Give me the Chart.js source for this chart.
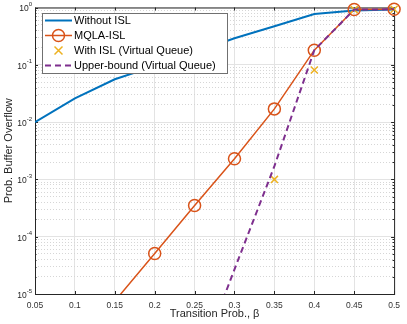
<!DOCTYPE html>
<html>
<head>
<meta charset="utf-8">
<script src="https://cdn.jsdelivr.net/npm/chart.js@4.4.1/dist/chart.umd.min.js"></script>
<style>
  html, body { margin: 0; padding: 0; background: #fff; }
  #wrap { width: 407px; height: 324px; position: relative; }
</style>
</head>
<body>
<div id="wrap"><canvas id="chart"></canvas></div>
<script>
// Transition probability beta (x axis)
const betas = [0.05, 0.1, 0.15, 0.2, 0.25, 0.3, 0.35, 0.4, 0.45, 0.5];

// Probability of buffer overflow for each scheme (null = not plotted)
const withoutIsl   = [0.0100, 0.026, 0.056, 0.095, 0.165, 0.29, 0.47, 0.77, 0.89, 0.92];
const mqlaIsl      = [null, null, 7.5e-6, 5.1e-5, 3.5e-4, 2.3e-3, 0.017, 0.18, 0.92, 0.93];
const withIslVq    = [null, null, null, null, null, null, 1.0e-3, 0.081, 0.92, 0.93];
const upperBoundVq = [null, null, null, null, 4e-7, 2.7e-5, 1.7e-3, 0.18, 0.92, 0.93];

// Tick labels
const xTicks = [0.05, 0.1, 0.15, 0.2, 0.25, 0.3, 0.35, 0.4, 0.45, 0.5];
const yDecades = [-5, -4, -3, -2, -1, 0];
const yTickExponents = ['-5', '-4', '-3', '-2', '-1', '0'];

const FONT = '"Liberation Sans", Arial, Helvetica, sans-serif';
const AXIS_COLOR = '#262626';

// every 1..9 x 10^e value gets a grid line, the 10^e ones are major
const yGridValues = [];
yDecades.forEach(e => {
  if (e === 0) { yGridValues.push(1); return; }
  for (let k = 1; k <= 9; k++) yGridValues.push(k * Math.pow(10, e));
});
const isMajor = v => Math.abs(Math.log10(v) - Math.round(Math.log10(v))) < 1e-9;

const toPoints = arr => betas.map((b, i) => ({ x: b, y: arr[i] }));

// Box round the plot area, inward ticks and 10^n labels
const axesBox = {
  id: 'axesBox',
  beforeDatasetsDraw(chart) {
    const { ctx, chartArea: a, scales: { x, y } } = chart;
    ctx.save();
    ctx.strokeStyle = AXIS_COLOR;
    ctx.lineWidth = 1;
    ctx.strokeRect(a.left + 0.5, a.top + 0.5, a.right - a.left, a.bottom - a.top);

    ctx.beginPath();
    xTicks.forEach(v => {
      const px = Math.round(x.getPixelForValue(v)) + 0.5;
      ctx.moveTo(px, a.bottom); ctx.lineTo(px, a.bottom - 3);
      ctx.moveTo(px, a.top); ctx.lineTo(px, a.top + 3);
    });
    yGridValues.forEach(v => {
      const py = Math.round(y.getPixelForValue(v)) + 0.5;
      const len = isMajor(v) ? 3 : 1.5;
      ctx.moveTo(a.left, py); ctx.lineTo(a.left + len, py);
      ctx.moveTo(a.right, py); ctx.lineTo(a.right - len, py);
    });
    ctx.stroke();
    ctx.restore();
  },
  afterDraw(chart) {
    const { ctx, chartArea: a, scales: { y } } = chart;
    ctx.save();
    ctx.fillStyle = AXIS_COLOR;
    ctx.textAlign = 'right';
    ctx.textBaseline = 'middle';
    yDecades.forEach((e, i) => {
      const py = y.getPixelForValue(Math.pow(10, e));
      const right = a.left - 3;
      const exp = yTickExponents[i];
      ctx.font = `6px ${FONT}`;
      const ew = ctx.measureText(exp).width;
      ctx.fillText(exp, right, py - 3);
      ctx.font = `8.5px ${FONT}`;
      ctx.fillText('10', right - ew, py + 1.5);
    });
    ctx.restore();
  }
};

// MATLAB style legend: line sample with marker in the middle
const boxLegend = {
  id: 'boxLegend',
  afterDraw(chart) {
    const { ctx } = chart;
    const left = 42, top = 13, width = 185, rowH = 15;
    const rows = chart.data.datasets.length;
    ctx.save();
    ctx.fillStyle = '#fff';
    ctx.fillRect(left, top, width, rows * rowH);
    ctx.strokeStyle = '#707070';
    ctx.lineWidth = 1;
    ctx.strokeRect(left + 0.5, top + 0.5, width, rows * rowH);

    chart.data.datasets.forEach((ds, i) => {
      const cy = top + 7.5 + i * rowH;
      const x0 = 45, x1 = 72, cx = (x0 + x1) / 2;
      ctx.strokeStyle = ds.borderColor;
      if (ds.showLine !== false) {
        ctx.lineWidth = ds.borderWidth;
        ctx.setLineDash(ds.borderDash || []);
        ctx.beginPath();
        ctx.moveTo(x0, cy); ctx.lineTo(x1, cy);
        ctx.stroke();
        ctx.setLineDash([]);
      }
      ctx.lineWidth = ds.pointBorderWidth || 1.5;
      if (ds.pointStyle === 'circle') {
        ctx.beginPath();
        ctx.arc(cx, cy, 6, 0, Math.PI * 2);
        ctx.stroke();
      } else if (ds.pointStyle === 'crossRot') {
        const r = 4;
        ctx.beginPath();
        ctx.moveTo(cx - r, cy - r); ctx.lineTo(cx + r, cy + r);
        ctx.moveTo(cx - r, cy + r); ctx.lineTo(cx + r, cy - r);
        ctx.stroke();
      }
      ctx.fillStyle = '#000';
      ctx.font = `11px ${FONT}`;
      ctx.textAlign = 'left';
      ctx.textBaseline = 'middle';
      ctx.fillText(ds.label, 74, cy + 0.5);
    });
    ctx.restore();
  }
};

const clipBottom = { left: 0, right: false, top: false, bottom: 0 };

new Chart(document.getElementById('chart'), {
  type: 'line',
  data: {
    datasets: [
      {
        label: 'Without ISL',
        data: toPoints(withoutIsl),
        borderColor: '#0072BD',
        borderWidth: 2,
        pointRadius: 0,
        order: 4,
        clip: clipBottom
      },
      {
        label: 'MQLA-ISL',
        data: toPoints(mqlaIsl),
        borderColor: '#D95319',
        borderWidth: 1.5,
        pointStyle: 'circle',
        pointRadius: ctx => (ctx.raw && ctx.raw.y < 1e-5 ? 0 : 6),
        pointBorderWidth: 1.5,
        pointBackgroundColor: 'rgba(0,0,0,0)',
        pointBorderColor: '#D95319',
        order: 3,
        clip: clipBottom
      },
      {
        label: 'With ISL (Virtual Queue)',
        data: toPoints(withIslVq),
        borderColor: '#EDB120',
        showLine: false,
        pointStyle: 'crossRot',
        pointRadius: 5,
        pointBorderWidth: 1.5,
        pointBorderColor: '#EDB120',
        order: 2,
        clip: clipBottom
      },
      {
        label: 'Upper-bound (Virtual Queue)',
        data: toPoints(upperBoundVq),
        borderColor: '#7E2F8E',
        borderWidth: 2,
        borderDash: [6, 4],
        pointRadius: 0,
        order: 1,
        clip: clipBottom
      }
    ]
  },
  options: {
    responsive: true,
    maintainAspectRatio: false,
    animation: false,
    layout: {
      padding: { top: 5, right: 8, left: 0, bottom: 0 }
    },
    plugins: {
      legend: { display: false },
      tooltip: { enabled: false }
    },
    scales: {
      x: {
        type: 'linear',
        min: 0.05,
        max: 0.5,
        afterBuildTicks: scale => {
          scale.ticks = xTicks.map(v => ({ value: v }));
        },
        afterFit: scale => { scale.height = 30; },
        ticks: {
          autoSkip: false,
          maxRotation: 0,
          padding: 7,
          color: '#333',
          font: { family: FONT, size: 8.5 },
          callback: value => String(+value.toFixed(2))
        },
        grid: {
          color: '#e3e3e3',
          drawTicks: false
        },
        border: { display: false },
        title: {
          display: true,
          text: 'Transition Prob., β',
          color: AXIS_COLOR,
          font: { family: FONT, size: 11 },
          padding: { top: 0, bottom: 3 }
        }
      },
      y: {
        type: 'logarithmic',
        min: 1e-5,
        max: 1,
        afterBuildTicks: scale => {
          scale.ticks = yGridValues.map(v => ({ value: v }));
        },
        afterFit: scale => { scale.width = 35; },
        ticks: { display: false, autoSkip: false },
        grid: {
          drawTicks: false,
          color: ctx => (ctx.tick && isMajor(ctx.tick.value) ? '#e3e3e3' : '#d6d6d6')
        },
        border: {
          display: false,
          dash: ctx => (ctx.tick && isMajor(ctx.tick.value) ? [] : [1, 2])
        },
        title: {
          display: true,
          text: 'Prob. Buffer Overflow',
          color: AXIS_COLOR,
          font: { family: FONT, size: 11 },
          padding: { top: 2, bottom: 0 }
        }
      }
    }
  },
  plugins: [axesBox, boxLegend]
});
</script>
</body>
</html>
